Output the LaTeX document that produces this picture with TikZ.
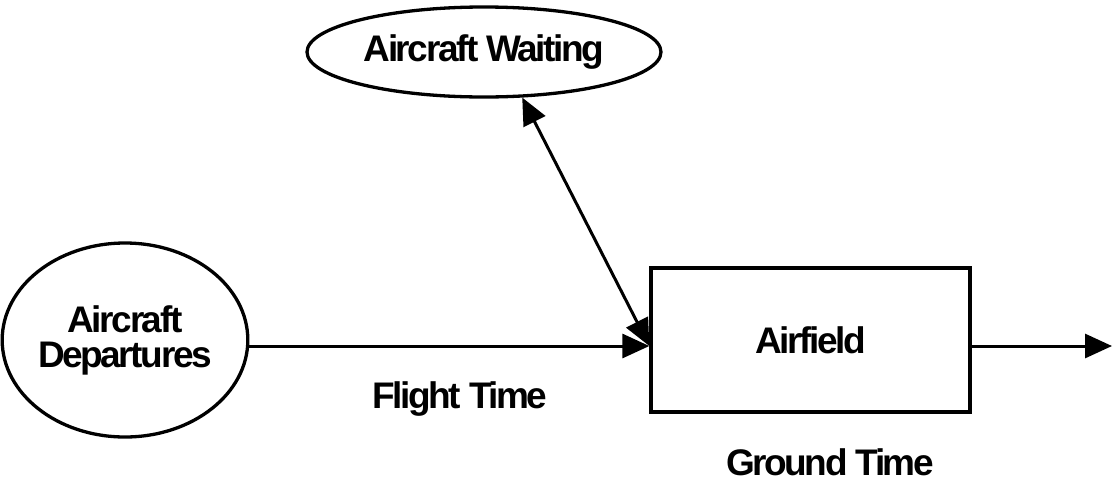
\documentclass[tikz,border=0pt]{standalone}
\usepackage{fontspec}
\setmainfont{Liberation Sans}[LetterSpace=-6.5]
\usetikzlibrary{arrows.meta,shapes.geometric}
\begin{document}
\begin{tikzpicture}[x=1pt,y=-1pt,
  lbl/.style={font=\fontsize{37}{35}\bfseries\selectfont},
  oval/.style={draw,ellipse,line width=3.3pt,inner sep=0pt,lbl},
  boxnode/.style={draw,rectangle,line width=3.3pt,inner sep=0pt,lbl},
  caption/.style={lbl,inner sep=0pt,anchor=base},
  tip/.style={Triangle[length=27pt,width=24pt]},
  conn/.style={line width=3pt,-{Triangle[length=27pt,width=24pt]}},
  dconn/.style={line width=3pt,{Triangle[length=27pt,width=24pt]}-{Triangle[length=27pt,width=24pt]}}]
\useasboundingbox (0,0) rectangle (1113,480);
\node[oval,minimum width=354pt,minimum height=90pt] (wait) at (484,52) {Aircraft Waiting};
\node[oval,minimum width=234pt,minimum height=194pt,align=center] (dep) at (125,340) {Aircraft\\Departures};
\node[boxnode,minimum width=319pt,minimum height=144pt] (air) at (810.5,340) {Airfield};
\node[caption] (flight) at (460,408) {Flight Time};
\node[caption] (ground) at (830,475) {Ground Time};
\coordinate (out) at (1112,346);
\draw[conn] ([yshift=-6pt]dep.east) -- ([yshift=-6pt]air.west);
\draw[dconn] (wait.-50) -- ([yshift=-6pt]air.west);
\draw[conn] ([yshift=-6pt]air.east) -- (out);
\end{tikzpicture}
\end{document}
